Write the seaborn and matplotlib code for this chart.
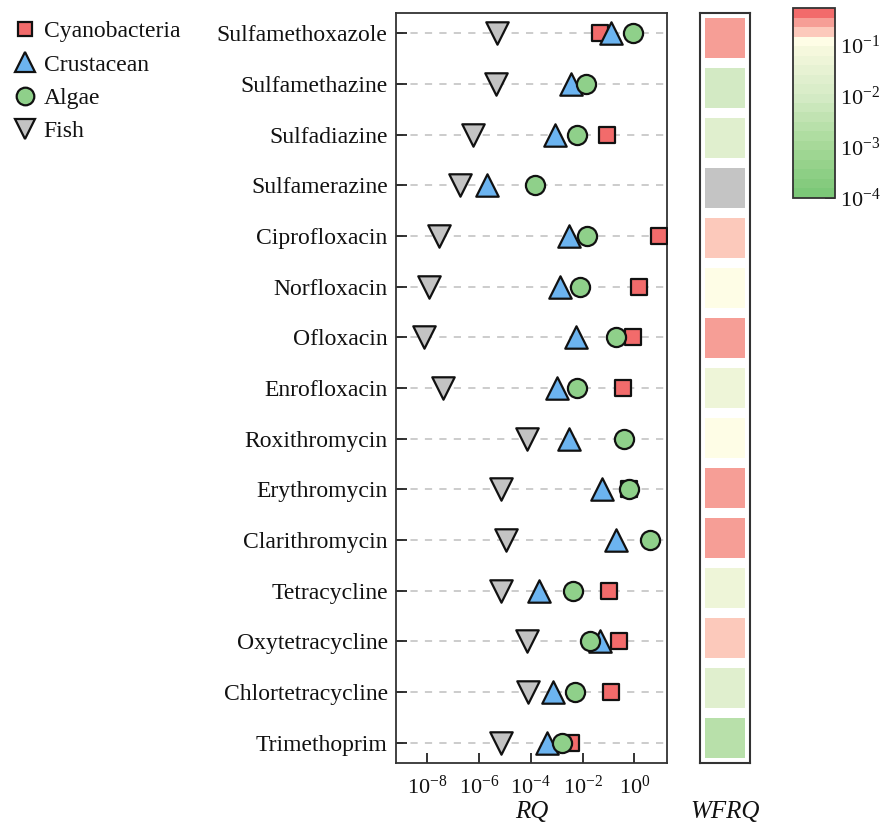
import numpy as np
import pandas as pd
import matplotlib
matplotlib.use("Agg")
import matplotlib.pyplot as plt
import seaborn as sns
from matplotlib.colors import LinearSegmentedColormap, ListedColormap, LogNorm
from matplotlib.lines import Line2D
from matplotlib.cm import ScalarMappable
from matplotlib.ticker import NullLocator

nan = np.nan

compounds = ["Sulfamethoxazole", "Sulfamethazine", "Sulfadiazine", "Sulfamerazine",
             "Ciprofloxacin", "Norfloxacin", "Ofloxacin", "Enrofloxacin",
             "Roxithromycin", "Erythromycin", "Clarithromycin", "Tetracycline",
             "Oxytetracycline", "Chlortetracycline", "Trimethoprim"]

cyanobacteria = [0.047, nan, 0.089, nan, 8.7, 1.5, 0.91, 0.35, nan, 0.63, nan, 0.10, 0.26, 0.12, 3.4e-3]
crustacean = [0.126, 3.5e-3, 8.7e-4, 2.0e-6, 2.9e-3, 1.3e-3, 5.6e-3, 1.0e-3, 2.9e-3, 0.058, 0.20, 2.1e-4, 0.045, 7.4e-4, 4.3e-4]
algae = [0.89, 0.014, 6.2e-3, 1.4e-4, 0.015, 7.8e-3, 0.20, 6.2e-3, 0.41, 0.62, 3.9, 4.1e-3, 0.020, 5.0e-3, 1.6e-3]
fish = [5.1e-6, 4.7e-6, 5.8e-7, 1.8e-7, 2.8e-8, 1.2e-8, 7.8e-9, 4.0e-8, 7.2e-5, 6.8e-6, 1.1e-5, 7.2e-6, 6.9e-5, 7.6e-5, 6.9e-6]

wfrq = [0.28, 0.008, 0.025, nan, 0.18, 0.12, 0.30, 0.06, 0.12, 0.30, 0.30, 0.06, 0.18, 0.025, 0.003]

series_names = ["Cyanobacteria", "Crustacean", "Algae", "Fish"]
series_values = [cyanobacteria, crustacean, algae, fish]
series_markers = ["s", "^", "o", "v"]
series_colors = ["#f26b6b", "#6cb4f0", "#8fd08a", "#c3c3c3"]
series_sizes = [125, 260, 190, 260]

xtick_values = [1e-8, 1e-6, 1e-4, 1e-2, 1e0]
cbar_ticks = [1e-4, 1e-3, 1e-2, 1e-1]

# ---------- style ----------
sns.set_theme(style="white")
plt.rcParams["font.family"] = ["Liberation Serif", "DejaVu Serif"]
plt.rcParams["mathtext.fontset"] = "custom"
plt.rcParams["mathtext.rm"] = "Liberation Serif"
plt.rcParams["mathtext.it"] = "Liberation Serif:italic"
plt.rcParams["axes.edgecolor"] = "#222222"
plt.rcParams["text.color"] = "#111111"
plt.rcParams["axes.labelcolor"] = "#111111"
plt.rcParams["xtick.color"] = "#111111"
plt.rcParams["ytick.color"] = "#111111"

fig = plt.figure(figsize=(8.86, 8.24), dpi=100)
ax = fig.add_axes([0.447, 0.074, 0.306, 0.910])
hax = fig.add_axes([0.790, 0.074, 0.0565, 0.910])
cax = fig.add_axes([0.895, 0.760, 0.047, 0.230])

# ---------- scatter ----------
ypos = np.arange(len(compounds))
for name, vals, mk, col, sz in zip(series_names, series_values, series_markers,
                                    series_colors, series_sizes):
    df = pd.DataFrame({"RQ": vals, "y": ypos})
    sns.scatterplot(data=df, x="RQ", y="y", marker=mk, color=col, s=sz,
                    edgecolor="#111111", linewidth=1.6, ax=ax, zorder=3,
                    legend=False)

ax.set_xscale("log")
ax.set_xlim(10 ** -9.2, 10 ** 1.26)
ax.set_ylim(len(compounds) - 0.6, -0.4)
ax.set_yticks(ypos)
ax.set_yticklabels(compounds, fontsize=17)
ax.set_xticks(xtick_values)
ax.xaxis.set_minor_locator(NullLocator())
ax.tick_params(axis="x", labelsize=16, direction="in", length=7, width=1.2,
               bottom=True, pad=9, colors="#111111")
ax.tick_params(axis="y", direction="in", length=8, width=1.2, left=True, pad=6,
               colors="#111111")
ax.grid(axis="y", linestyle=(0, (4, 4)), color="#c8c8c8", linewidth=1.3)
ax.grid(axis="x", visible=False)
ax.set_axisbelow(True)
for sp in ax.spines.values():
    sp.set_visible(True)
    sp.set_linewidth(1.3)
    sp.set_color("#333333")
ax.set_xlabel("RQ", fontsize=18, style="italic")
ax.xaxis.set_label_coords(0.5, -0.05)
ax.set_ylabel("")

# ---------- colormap ----------
grad = LinearSegmentedColormap.from_list(
    "gy", [(0.0, "#7cc878"), (0.31, "#a6d998"), (0.63, "#d3eac4"),
           (0.95, "#f6f8de"), (1.0, "#fefde6")])
cols = [grad(v) for v in np.linspace(0, 1, 17)] + ["#fcc9bb", "#f69e96", "#f26b6b"]
cmap = ListedColormap(cols)
cmap.set_bad("#c4c4c4")
norm = LogNorm(vmin=1e-4, vmax=0.52)

# ---------- heatmap ----------
hdf = pd.DataFrame({"WFRQ": wfrq}, index=compounds)
sns.heatmap(hdf, ax=hax, cmap=cmap, norm=norm, cbar=False, linewidths=6,
            linecolor="white", xticklabels=False, yticklabels=False)
for sp in hax.spines.values():
    sp.set_visible(True)
    sp.set_linewidth(1.5)
    sp.set_color("#333333")
hax.set_xlabel("WFRQ", fontsize=18, style="italic")
hax.xaxis.set_label_coords(0.5, -0.05)
hax.set_ylabel("")
hax.tick_params(left=False, bottom=False)

# ---------- colorbar ----------
sm = ScalarMappable(norm=norm, cmap=cmap)
cb = fig.colorbar(sm, cax=cax)
cb.set_ticks(cbar_ticks)
cb.ax.yaxis.set_minor_locator(NullLocator())
cb.ax.tick_params(labelsize=16, direction="in", length=7, width=1.2,
                  right=True, colors="#111111", pad=4)
cb.outline.set_linewidth(1.3)
cb.outline.set_edgecolor("#333333")

# ---------- legend ----------
handles = [Line2D([], [], linestyle="none", marker=mk, markersize=np.sqrt(sz) * 0.92,
                  markerfacecolor=col, markeredgecolor="#111111", markeredgewidth=1.6)
           for mk, col, sz in zip(series_markers, series_colors, series_sizes)]
fig.legend(handles, series_names, loc="upper left", bbox_to_anchor=(0.0, 0.992),
           frameon=False, fontsize=17, handletextpad=0.35, labelspacing=0.5,
           handlelength=0.9, borderaxespad=0.2)

fig.savefig("out.png", dpi=100)
